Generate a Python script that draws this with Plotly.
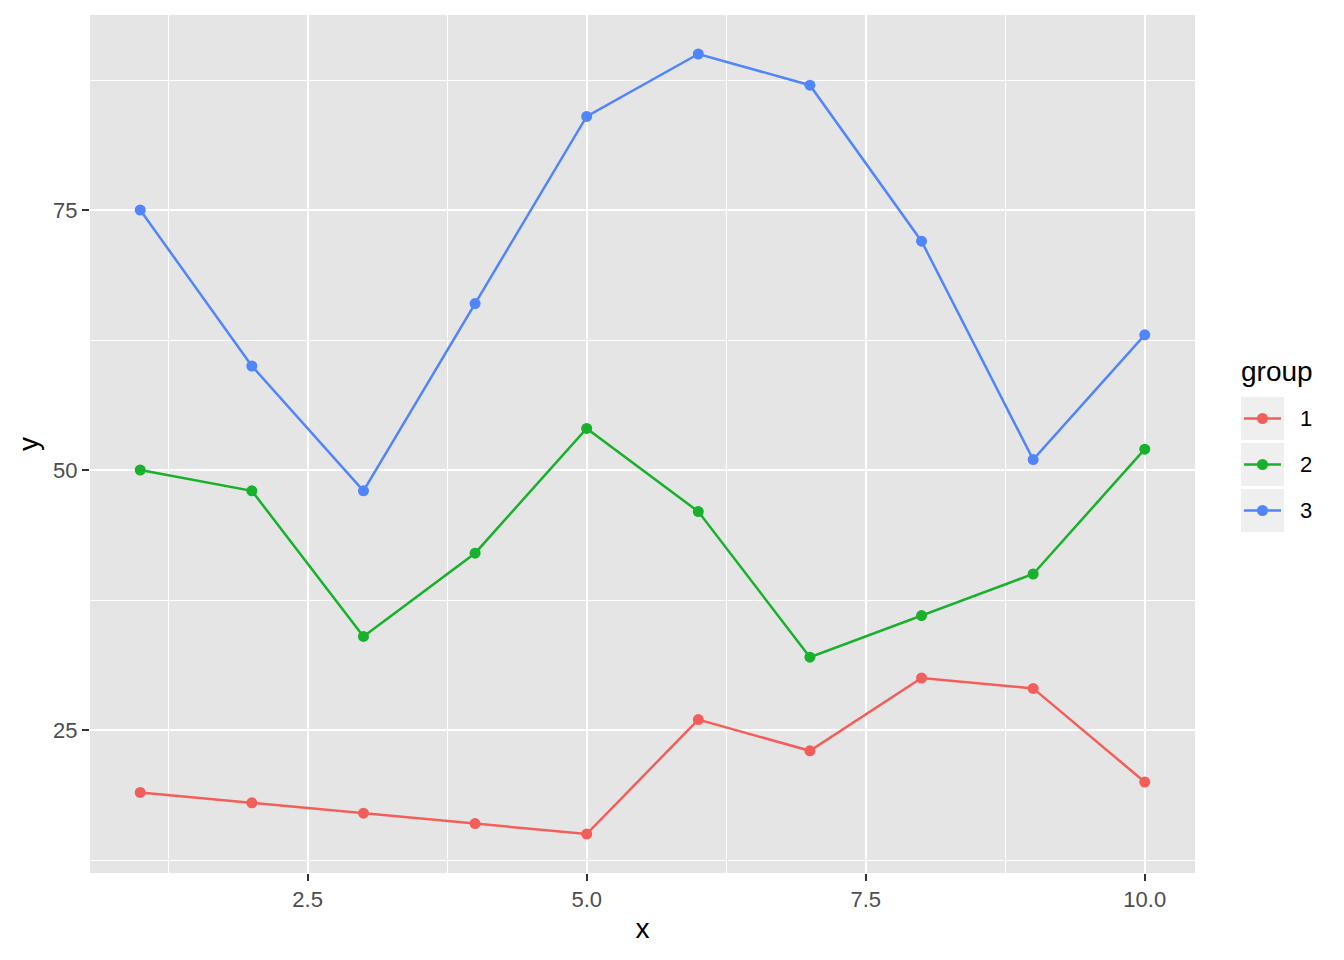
import plotly.graph_objects as go

x = [1, 2, 3, 4, 5, 6, 7, 8, 9, 10]
groups = ["1", "2", "3"]
y1 = [19, 18, 17, 16, 15, 26, 23, 30, 29, 20]
y2 = [50, 48, 34, 42, 54, 46, 32, 36, 40, 52]
y3 = [75, 60, 48, 66, 84, 90, 87, 72, 51, 63]
series = [y1, y2, y3]
colors = ["#F35E5A", "#17B12B", "#5185FB"]

# page has an 8px body margin; figure sized to fit inside 1344x960 window
W, H = 1336, 952
OFF = 8
L, R, T, B = 90, 1195, 15, 873  # plot area in page pixels

def px(xp):
    return (xp - L) / (R - L)

def py(yp):
    return (B - yp) / (B - T)

fig = go.Figure()
for g, ys, c in zip(groups, series, colors):
    fig.add_trace(go.Scatter(x=x, y=ys, mode="lines+markers", name=g,
                             line=dict(color=c, width=2.5),
                             marker=dict(color=c, size=11),
                             showlegend=False))

shapes = []
annotations = []
annotations.append(dict(text="group", x=px(1239), y=py(371), xref="paper", yref="paper",
                        xanchor="left", yanchor="middle", showarrow=False,
                        font=dict(size=28, color="black")))
for i, (g, c) in enumerate(zip(groups, colors)):
    top = 397 + i * 46
    bot = top + 43
    cy = (top + bot) / 2
    shapes.append(dict(type="rect", xref="paper", yref="paper",
                       x0=px(1241), x1=px(1284), y0=py(bot), y1=py(top),
                       fillcolor="#EFEFEF", line=dict(width=0), layer="below"))
    shapes.append(dict(type="line", xref="paper", yref="paper",
                       x0=px(1244), x1=px(1281), y0=py(cy), y1=py(cy),
                       line=dict(color=c, width=2.5)))
    shapes.append(dict(type="circle", xref="paper", yref="paper",
                       x0=px(1262.5 - 5.5), x1=px(1262.5 + 5.5),
                       y0=py(cy + 5.5), y1=py(cy - 5.5),
                       fillcolor=c, line=dict(width=0)))
    annotations.append(dict(text=g, x=px(1298), y=py(cy), xref="paper", yref="paper",
                            xanchor="left", yanchor="middle", showarrow=False,
                            font=dict(size=22, color="black")))

font_family = "Liberation Sans, Arial, Helvetica, sans-serif"
fig.update_layout(
    width=W, height=H,
    margin=dict(l=L - OFF, r=W - (R - OFF), t=T - OFF, b=H - (B - OFF)),
    paper_bgcolor="white", plot_bgcolor="#E5E5E5",
    font=dict(family=font_family),
    shapes=shapes, annotations=annotations,
    showlegend=False,
)
fig.update_xaxes(range=[0.55, 10.45], tick0=0, dtick=2.5, tickformat=".1f",
                 showgrid=True, gridcolor="white", gridwidth=2.2, zeroline=False,
                 ticks="outside", ticklen=7, tickcolor="#333333", tickwidth=2,
                 tickfont=dict(size=22, color="#4D4D4D"),
                 minor=dict(dtick=1.25, tick0=0, showgrid=True, gridcolor="white", gridwidth=1.1),
                 title=dict(text="x", font=dict(size=28, color="black"), standoff=6),
                 showline=False)
fig.update_yaxes(range=[11.25, 93.75], tick0=0, dtick=25,
                 showgrid=True, gridcolor="white", gridwidth=2.2, zeroline=False,
                 ticks="outside", ticklen=7, tickcolor="#333333", tickwidth=2,
                 tickfont=dict(size=22, color="#4D4D4D"),
                 minor=dict(dtick=12.5, tick0=0, showgrid=True, gridcolor="white", gridwidth=1.1),
                 title=dict(text="y", font=dict(size=28, color="black"), standoff=6),
                 showline=False)

fig.write_html("out.html")
